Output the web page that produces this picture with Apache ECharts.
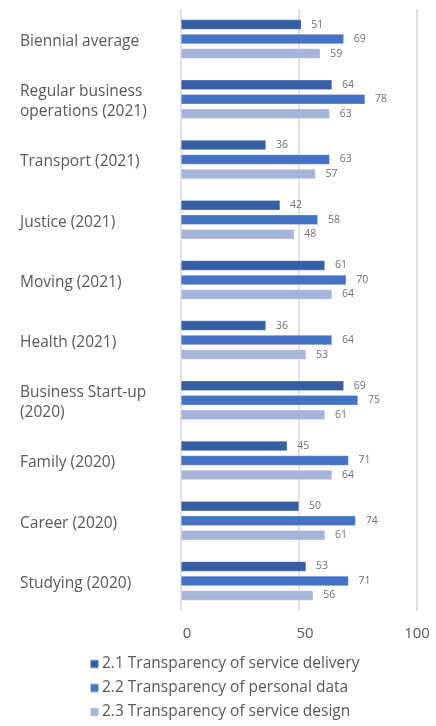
<!DOCTYPE html>
<html>
<head>
<meta charset="utf-8">
<script src="https://cdn.jsdelivr.net/npm/echarts@6/dist/echarts.min.js"></script>
<style>
  html, body { margin: 0; padding: 0; background: #fff; }
  #chart { width: 436px; height: 726px; }
</style>
</head>
<body>
<div id="chart"></div>
<script>
// Life-event categories, top to bottom
const categories = [
  'Biennial average',
  'Regular business\noperations (2021)',
  'Transport (2021)',
  'Justice (2021)',
  'Moving (2021)',
  'Health (2021)',
  'Business Start-up\n(2020)',
  'Family (2020)',
  'Career (2020)',
  'Studying (2020)'
];

const seriesNames = [
  '2.1 Transparency of service delivery',
  '2.2 Transparency of personal data',
  '2.3 Transparency of service design'
];

const serviceDelivery = [51, 64, 36, 42, 61, 36, 69, 45, 50, 53];
const personalData    = [69, 78, 63, 58, 70, 64, 75, 71, 74, 71];
const serviceDesign   = [59, 63, 57, 48, 64, 53, 61, 64, 61, 56];

const xTicks = [0, 50, 100];

const colors = ['#365ea2', '#4472c4', '#a6b4da'];
const fontFamily = '"Open Sans", sans-serif';
const textColor = '#595959';

const chart = echarts.init(document.getElementById('chart'), null, { renderer: 'canvas' });

function barSeries(name, data, color) {
  return {
    name: name,
    type: 'bar',
    data: data,
    barWidth: 10,
    barGap: '45%',
    itemStyle: { color: color, borderColor: 'rgba(255,255,255,0.6)', borderWidth: 0.5 },
    label: {
      show: true,
      position: 'right',
      distance: 10,
      color: '#707070',
      fontSize: 10.5,
      fontFamily: fontFamily
    }
  };
}

// Each line of a category label gets a small top pad so the text sits
// slightly below the middle of its bar group.
function categoryLabel(value) {
  return value.split('\n').map(function (line) {
    return '{c|' + line + '}';
  }).join('\n');
}

chart.setOption({
  animation: false,
  backgroundColor: '#fff',
  grid: { left: 181, right: 19, top: 9, bottom: 115, containLabel: false },
  xAxis: {
    type: 'value',
    min: xTicks[0],
    max: xTicks[xTicks.length - 1],
    interval: 50,
    axisLine: { show: false },
    axisTick: { show: false },
    splitLine: { show: true, lineStyle: { color: '#d9d9d9', width: 1.5 } },
    axisLabel: {
      color: textColor,
      fontSize: 15,
      fontFamily: fontFamily,
      margin: 15,
      formatter: function (v) { return v === 100 ? '{m|' + v + '}' : '{n|' + v + '}'; },
      rich: {
        n: { fontSize: 15, fontFamily: fontFamily, color: textColor, padding: [0, 0, 0, 12] },
        m: { fontSize: 15, fontFamily: fontFamily, color: textColor }
      }
    }
  },
  yAxis: {
    type: 'category',
    data: categories,
    inverse: true,
    axisLine: { show: false },
    axisTick: { show: false },
    axisLabel: {
      color: textColor,
      fontSize: 15.5,
      fontFamily: fontFamily,
      align: 'left',
      margin: 161,
      lineHeight: 20,
      formatter: categoryLabel,
      rich: {
        c: { fontSize: 15.5, fontFamily: fontFamily, color: textColor, lineHeight: 20, padding: [5, 0, 0, 0] }
      }
    }
  },
  legend: {
    orient: 'vertical',
    left: 84,
    top: 647,
    height: 78,
    itemWidth: 9,
    itemHeight: 9,
    itemGap: 0,
    icon: 'rect',
    textStyle: { color: textColor, fontSize: 15.5, lineHeight: 24, fontFamily: fontFamily, padding: [0, 0, 0, -2] },
    data: seriesNames
  },
  series: [
    barSeries(seriesNames[0], serviceDelivery, colors[0]),
    barSeries(seriesNames[1], personalData, colors[1]),
    barSeries(seriesNames[2], serviceDesign, colors[2])
  ]
});
</script>
</body>
</html>
